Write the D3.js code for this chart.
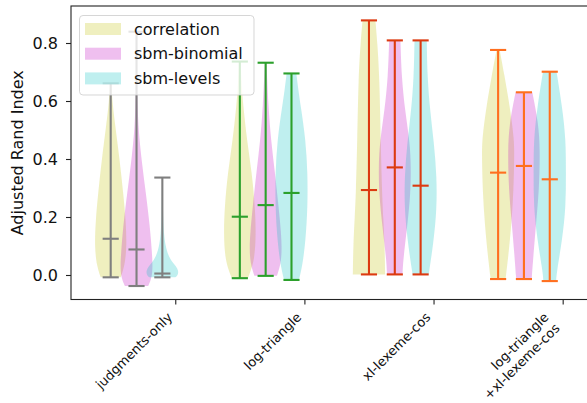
<!DOCTYPE html>
<html><head><meta charset="utf-8">
<script src="https://cdn.jsdelivr.net/npm/d3@7"></script>
<style>body{margin:0;background:#fff}svg{display:block;font-family:"DejaVu Sans",sans-serif}</style>
</head><body><svg id="c" width="587" height="403"></svg>
<script>
const categories = ["judgments-only", "log-triangle", "xl-lexeme-cos", "log-triangle\n+xl-lexeme-cos"];
const methods = ["correlation", "sbm-binomial", "sbm-levels"];
const yTicks = [0.0, 0.2, 0.4, 0.6, 0.8];
const groupLineColors = ["#7f7f7f", "#2ca02c", "#dc3a10", "#ff6f1f"];
const methodFill = ["rgb(191,191,0)", "rgb(191,0,191)", "rgb(0,191,191)"];
// per group: [correlation, sbm-binomial, sbm-levels]
const minVals = [[-0.008, -0.038, -0.008], [-0.011, -0.003, -0.017], [0.002, 0.002, 0.002], [-0.014, -0.014, -0.021]];
const maxVals = [[0.661, 0.839, 0.336], [0.736, 0.732, 0.695], [0.878, 0.809, 0.809], [0.776, 0.630, 0.701]];
const midVals = [[0.125, 0.088, 0.005], [0.201, 0.241, 0.283], [0.293, 0.371, 0.308], [0.353, 0.376, 0.330]];
// density profiles: [value, relative half-width]
const profiles = [
  [
    [[-0.008,0.62],[0.03,0.86],[0.098,1.0],[0.19,0.93],[0.28,0.78],[0.4,0.55],[0.51,0.29],[0.6,0.1],[0.661,0.04]],
    [[-0.038,0.72],[-0.01,0.95],[0.03,1.0],[0.075,0.96],[0.167,0.83],[0.282,0.58],[0.397,0.31],[0.511,0.1],[0.65,0.03],[0.839,0.01]],
    [[-0.008,0.8],[0.0,0.97],[0.015,1.0],[0.03,0.85],[0.045,0.6],[0.07,0.35],[0.1,0.2],[0.14,0.1],[0.2,0.04],[0.336,0.02]]
  ],
  [
    [[-0.011,0.5],[0.05,0.92],[0.144,1.0],[0.236,0.94],[0.351,0.75],[0.466,0.44],[0.58,0.22],[0.64,0.13],[0.736,0.05]],
    [[-0.003,0.7],[0.04,0.95],[0.09,1.0],[0.144,0.96],[0.236,0.8],[0.351,0.58],[0.466,0.33],[0.58,0.17],[0.732,0.05]],
    [[-0.017,0.46],[0.029,0.67],[0.121,0.88],[0.236,1.0],[0.351,1.0],[0.466,0.88],[0.58,0.58],[0.64,0.42],[0.695,0.3]]
  ],
  [
    [[0.002,1.0],[0.109,0.97],[0.2,0.88],[0.282,0.81],[0.454,0.73],[0.684,0.65],[0.8,0.52],[0.878,0.4]],
    [[0.002,0.48],[0.052,0.52],[0.167,0.77],[0.282,0.98],[0.374,1.0],[0.454,0.94],[0.569,0.63],[0.684,0.42],[0.809,0.35]],
    [[0.002,0.5],[0.109,0.79],[0.224,1.0],[0.339,1.0],[0.454,0.83],[0.569,0.58],[0.684,0.42],[0.809,0.38]]
  ],
  [
    [[-0.014,0.46],[0.063,0.63],[0.178,0.83],[0.293,0.96],[0.408,1.0],[0.466,1.0],[0.58,0.73],[0.695,0.37],[0.776,0.1]],
    [[-0.014,0.48],[0.063,0.58],[0.178,0.75],[0.293,0.94],[0.431,1.0],[0.523,0.9],[0.63,0.52]],
    [[-0.021,0.4],[0.006,0.42],[0.121,0.77],[0.236,1.0],[0.351,1.0],[0.466,1.0],[0.58,0.77],[0.701,0.42]]
  ]
];
const offsets = [-0.5, -0.3, -0.1];
const vWidth = 0.25;

const svg = d3.select("#c");
const L = 71, T = 6, B = 299.5;
const x = d3.scaleLinear().domain([0.1926, 4.2]).range([L, 588.5]);
const y = d3.scaleLinear().domain([-0.0845, 0.9276]).range([B, T]);
const halfPx = x(vWidth / 2) - x(0);
const capPx = x(vWidth / 4) - x(0);

const plot = svg.append("g");
// bodies
categories.forEach((c, gi) => {
  methods.forEach((m, mi) => {
    const cx = x(gi + 1 + offsets[mi]);
    const area = d3.area()
      .y(d => y(d[0]))
      .x0(d => cx - d[1] * halfPx)
      .x1(d => cx + d[1] * halfPx)
      .curve(d3.curveBasis);
    plot.append("path").attr("d", area(profiles[gi][mi]))
      .attr("fill", methodFill[mi]).attr("fill-opacity", 0.25);
  });
});
// lines
categories.forEach((c, gi) => {
  methods.forEach((m, mi) => {
    const cx = x(gi + 1 + offsets[mi]);
    const col = groupLineColors[gi];
    const g = plot.append("g").attr("stroke", col).attr("stroke-width", 2.1);
    g.append("line").attr("x1", cx).attr("x2", cx).attr("y1", y(minVals[gi][mi])).attr("y2", y(maxVals[gi][mi]));
    [minVals[gi][mi], maxVals[gi][mi], midVals[gi][mi]].forEach(v => {
      g.append("line").attr("x1", cx - capPx).attr("x2", cx + capPx).attr("y1", y(v)).attr("y2", y(v));
    });
  });
});

// axes
const yAxis = d3.axisLeft(y).tickValues(yTicks).tickFormat(d3.format(".1f")).tickSize(5).tickPadding(8);
const ya = svg.append("g").attr("transform", `translate(${L},0)`).call(yAxis);
ya.select(".domain").remove();
ya.selectAll("line").attr("stroke", "#222").attr("stroke-width", 1.1);
ya.selectAll("text").attr("font-size", 16).attr("fill", "#111").attr("font-family", "DejaVu Sans");

const xAxis = d3.axisBottom(x).tickValues([1, 2, 3, 4]).tickFormat("").tickSize(5);
const xa = svg.append("g").attr("transform", `translate(0,${B})`).call(xAxis);
xa.select(".domain").remove();
xa.selectAll("line").attr("stroke", "#222").attr("stroke-width", 1.1);

// x labels rotated
const fs = 13, lh = 15.6, asc = 12, desc = 3.1;
categories.forEach((c, gi) => {
  const lines = c.split("\n");
  const nl = lines.length;
  const ax = x(gi + 1) - 0.707 * ((nl - 1) * lh + desc);
  const ay = B + 10 + 0.707 * asc;
  const t = svg.append("text").attr("transform", `translate(${ax},${ay}) rotate(-45)`)
    .attr("text-anchor", "end").attr("font-size", fs).attr("fill", "#111");
  lines.forEach((s, i) => t.append("tspan").attr("x", 0).attr("y", i * lh).text(s));
});

// spines
svg.append("rect").attr("x", L).attr("y", T).attr("width", 588.5 - L).attr("height", B - T)
  .attr("fill", "none").attr("stroke", "#222").attr("stroke-width", 1.1);

// y label
svg.append("text").attr("transform", `translate(23,${(T + B) / 2}) rotate(-90)`)
  .attr("text-anchor", "middle").attr("font-size", 16).attr("fill", "#111").text("Adjusted Rand Index");

// legend
const lg = svg.append("g");
lg.append("rect").attr("x", 79.5).attr("y", 15.5).attr("width", 174.5).attr("height", 79.5).attr("rx", 3.5)
  .attr("fill", "white").attr("fill-opacity", 0.8).attr("stroke", "#cccccc").attr("stroke-opacity", 0.8);
methods.forEach((m, i) => {
  const cy = 29 + i * 24.7;
  lg.append("rect").attr("x", 85).attr("y", cy - 6).attr("width", 36).attr("height", 12)
    .attr("fill", methodFill[i]).attr("fill-opacity", 0.25);
  lg.append("text").attr("x", 134).attr("y", cy + 5.5).attr("font-size", 16).attr("fill", "#111").text(m);
});
</script></body></html>
